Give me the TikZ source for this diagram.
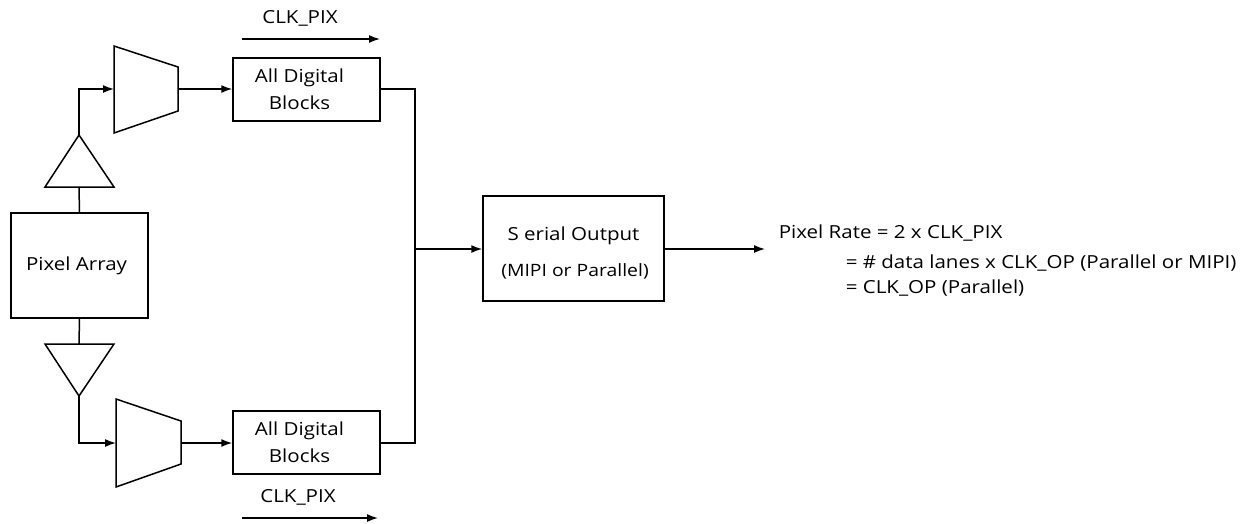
\documentclass[tikz,border=0pt]{standalone}
\usepackage{fontspec}
\setmainfont{Open Sans}[FakeStretch=1.14]
\usetikzlibrary{arrows.meta}
\begin{document}
\begin{tikzpicture}[x=1pt,y=-1pt,line width=1.5pt,
  box/.style={draw,line width=1.5pt,inner sep=0pt},
  lbl/.style={inner sep=0pt,align=center,font=\fontsize{18}{27}\selectfont},
  arr/.style={-{Latex[length=11pt,width=8pt]}},
  shp/.style={draw,line width=1.5pt,line join=miter}]
\useasboundingbox (0,0) rectangle (1249,523);
% boxes
\node[box,minimum width=137pt,minimum height=105pt] (pa) at (79.5,265.5) {};
\node[lbl] (pat) at (76.5,266) {Pixel Array};
\node[box,minimum width=147pt,minimum height=63pt] (d1) at (306.5,89.5) {};
\node[lbl] (d1t) at (299.5,89.5) {All Digital\\Blocks};
\node[box,minimum width=147pt,minimum height=63pt] (d2) at (306.5,442.5) {};
\node[lbl] (d2t) at (299.5,442.5) {All Digital\\Blocks};
\node[box,minimum width=181pt,minimum height=105pt] (so) at (573.5,248.5) {};
\node[lbl] (so1) at (573.5,236) {S erial Output};
\node[lbl,font=\fontsize{17}{18}\selectfont] (so2) at (575,271) {(MIPI or Parallel)};
% triangles
\draw[shp] (45,187) -- (114,187) -- (79,135) -- cycle;
\coordinate (t1top) at (79,135);
\coordinate (t1bot) at (79,187);
\draw[shp] (45,344) -- (114,344) -- (79,396) -- cycle;
\coordinate (t2top) at (79,344);
\coordinate (t2bot) at (79,396);
% muxes
\draw[shp] (114,46) -- (178,67) -- (178,111) -- (114,133) -- cycle;
\coordinate (m1in) at (114,89);
\coordinate (m1out) at (178,89);
\draw[shp] (116,399) -- (181,421) -- (181,464) -- (116,487) -- cycle;
\coordinate (m2in) at (116,443);
\coordinate (m2out) at (181,443);
% connections
\draw (pa.north) -- (t1bot);
\draw[arr] (t1top) |- (m1in);
\draw[arr] (m1out) -- (m1out -| d1.west);
\draw (pa.south) -- (t2top);
\draw[arr] (t2bot) |- (m2in);
\draw[arr] (m2out) -- (m2out -| d2.west);
\coordinate (j1) at (415,89);
\coordinate (j2) at (415,443);
\coordinate (jm) at (415,249);
\draw (d1.east |- j1) -- (j1) -- (j2) -- (d2.east |- j2);
\draw[arr] (jm) -- (jm -| so.west);
\coordinate (outend) at (765,249);
\draw[arr] (so.east |- outend) -- (outend);
% clocks
\node[lbl] (c1) at (300,18) {CLK\_PIX};
\coordinate (c1a) at (242,39);
\coordinate (c1b) at (380,39);
\draw[arr] (c1a) -- (c1b);
\node[lbl] (c2) at (298,497) {CLK\_PIX};
\coordinate (c2a) at (242,518);
\coordinate (c2b) at (378,518);
\draw[arr] (c2a) -- (c2b);
% rate text
\node[lbl,anchor=west] (r1) at (778,233) {Pixel Rate = 2 x CLK\_PIX};
\node[lbl,anchor=west] (r2) at (845,263) {= \# data lanes x CLK\_OP (Parallel or MIPI)};
\node[lbl,anchor=west] (r3) at (845,288) {= CLK\_OP (Parallel)};
\end{tikzpicture}
\end{document}
